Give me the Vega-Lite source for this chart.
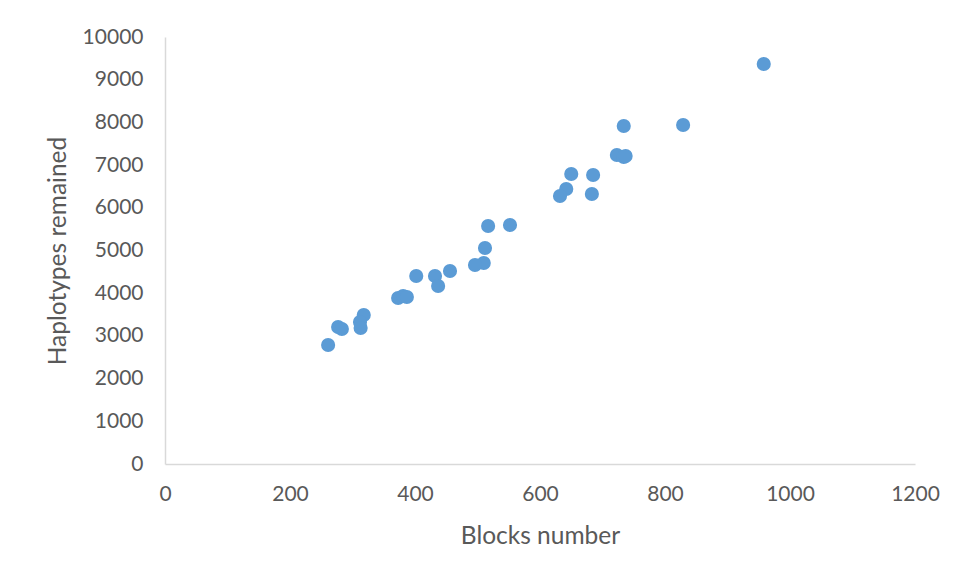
{
  "$schema": "https://vega.github.io/schema/vega-lite/v6.json",
  "width": 750,
  "height": 427,
  "autosize": {"type": "none"},
  "padding": {"left": 165, "top": 37, "right": 41, "bottom": 113},
  "background": "white",
  "config": {
    "view": {"stroke": null},
    "axis": {
      "grid": false,
      "ticks": false,
      "domainColor": "#D9D9D9",
      "domainWidth": 1.5,
      "labelColor": "#595959",
      "titleColor": "#595959",
      "labelFont": "Lato",
      "titleFont": "Lato",
      "labelFontSize": 21,
      "titleFontSize": 24.5,
      "titleFontWeight": "normal"
    }
  },
  "data": {
    "values": [
      {"blocks": 958, "haplotypes": 9368},
      {"blocks": 829, "haplotypes": 7939},
      {"blocks": 734, "haplotypes": 7916},
      {"blocks": 723, "haplotypes": 7237},
      {"blocks": 734, "haplotypes": 7190},
      {"blocks": 737, "haplotypes": 7213},
      {"blocks": 650, "haplotypes": 6792},
      {"blocks": 685, "haplotypes": 6768},
      {"blocks": 642, "haplotypes": 6440},
      {"blocks": 632, "haplotypes": 6276},
      {"blocks": 683, "haplotypes": 6323},
      {"blocks": 552, "haplotypes": 5597},
      {"blocks": 517, "haplotypes": 5574},
      {"blocks": 512, "haplotypes": 5058},
      {"blocks": 510, "haplotypes": 4707},
      {"blocks": 496, "haplotypes": 4660},
      {"blocks": 456, "haplotypes": 4520},
      {"blocks": 432, "haplotypes": 4403},
      {"blocks": 402, "haplotypes": 4403},
      {"blocks": 437, "haplotypes": 4169},
      {"blocks": 373, "haplotypes": 3888},
      {"blocks": 381, "haplotypes": 3934},
      {"blocks": 387, "haplotypes": 3911},
      {"blocks": 318, "haplotypes": 3489},
      {"blocks": 312, "haplotypes": 3326},
      {"blocks": 313, "haplotypes": 3185},
      {"blocks": 277, "haplotypes": 3208},
      {"blocks": 283, "haplotypes": 3162},
      {"blocks": 261, "haplotypes": 2787}
    ]
  },
  "mark": {"type": "circle", "size": 200, "color": "#5B9BD5", "opacity": 1},
  "encoding": {
    "x": {
      "field": "blocks",
      "type": "quantitative",
      "scale": {"domain": [0, 1200], "nice": false},
      "axis": {
        "values": [0, 200, 400, 600, 800, 1000, 1200],
        "format": "d",
        "title": "Blocks number",
        "labelPadding": 19,
        "titlePadding": 20,
        "labelFlush": false
      }
    },
    "y": {
      "field": "haplotypes",
      "type": "quantitative",
      "scale": {"domain": [0, 10000], "nice": false},
      "axis": {
        "values": [0, 1000, 2000, 3000, 4000, 5000, 6000, 7000, 8000, 9000, 10000],
        "format": "d",
        "title": "Haplotypes remained",
        "labelPadding": 22,
        "titlePadding": 12,
        "labelFlush": false
      }
    }
  }
}
